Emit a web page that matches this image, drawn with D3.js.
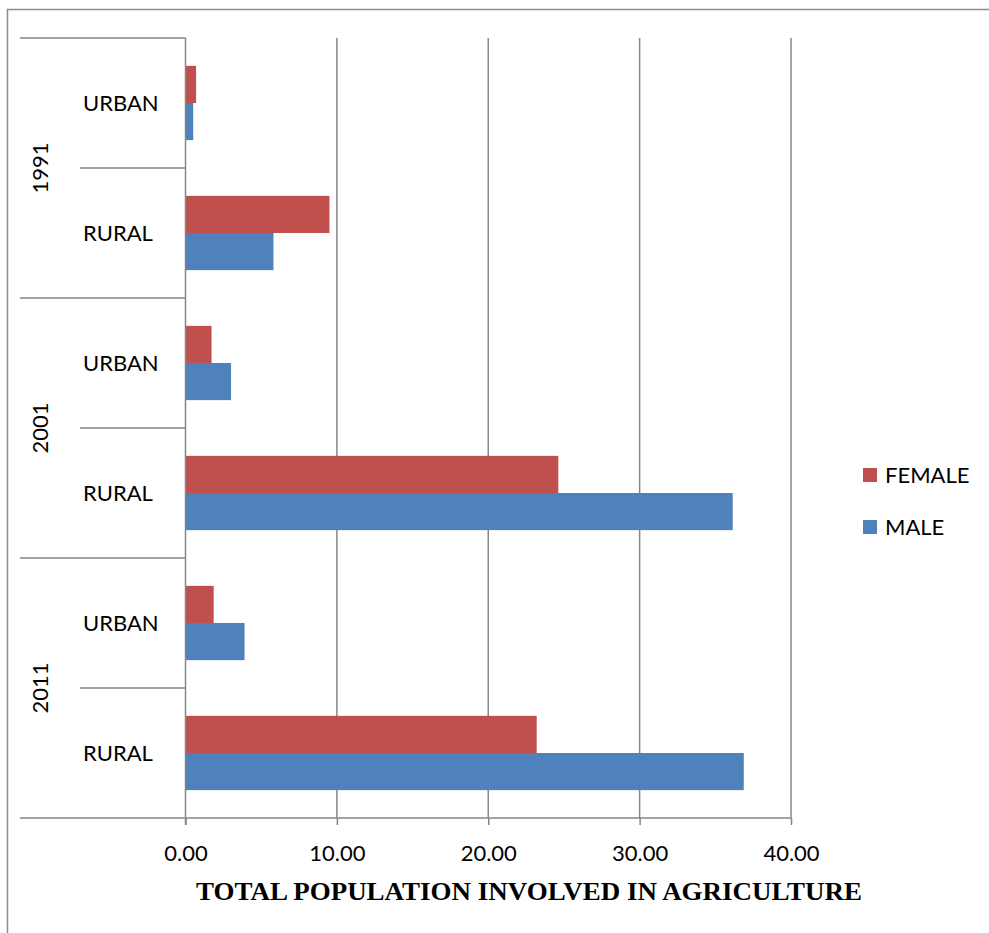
<!DOCTYPE html>
<html><head><meta charset="utf-8">
<script src="https://cdn.jsdelivr.net/npm/d3@7"></script>
<style>body{margin:0;background:#fff}svg{display:block}</style>
</head><body>
<svg id="c" width="989" height="933"></svg>
<script>
const years = ["1991", "2001", "2011"];
const areas = ["URBAN", "RURAL"];
const seriesNames = ["FEMALE", "MALE"];
const seriesColors = ["#C0504D", "#4F81BD"];
// order: 1991 URBAN, 1991 RURAL, 2001 URBAN, 2001 RURAL, 2011 URBAN, 2011 RURAL
const femaleValues = [0.70, 9.51, 1.72, 24.63, 1.86, 23.20];
const maleValues = [0.51, 5.81, 3.01, 36.15, 3.90, 36.88];
const xTicks = [0, 10, 20, 30, 40];
const xTitle = "TOTAL POPULATION INVOLVED IN AGRICULTURE";

const rows = [];
years.forEach(y => areas.forEach(a => rows.push({year: y, area: a, key: y + "|" + a})));
rows.forEach((r, i) => { r.FEMALE = femaleValues[i]; r.MALE = maleValues[i]; });

const svg = d3.select("#c");
const L = 185.5, R = 791, T = 38, B = 818;
const x = d3.scaleLinear().domain([0, 40]).range([L, R]);
const y = d3.scaleBand().domain(rows.map(r => r.key)).range([T, B]).paddingInner(0.4286).paddingOuter(0.2143);
const inner = d3.scaleBand().domain(seriesNames).range([0, y.bandwidth()]);
const step = y.step();
const font = "Lato, 'Open Sans', sans-serif";
const grey = "#868686";

// chart frame
svg.append("rect").attr("x", 7.5).attr("y", 9.5).attr("width", 1000).attr("height", 1000)
  .attr("fill", "none").attr("stroke", "#8c8c8c").attr("stroke-width", 1.5);

// gridlines
svg.append("g").selectAll("line").data(xTicks.slice(1)).join("line")
  .attr("x1", d => x(d)).attr("x2", d => x(d)).attr("y1", T).attr("y2", B)
  .attr("stroke", grey).attr("stroke-width", 1.5);

// bars
const g = svg.append("g");
rows.forEach(r => {
  seriesNames.forEach((s, si) => {
    g.append("rect")
      .attr("x", x(0)).attr("y", y(r.key) + inner(s))
      .attr("width", x(r[s]) - x(0)).attr("height", inner.bandwidth())
      .attr("fill", seriesColors[si]);
  });
});

// x axis
const xAxis = d3.axisBottom(x).tickValues(xTicks).tickFormat(d3.format(".2f")).tickSize(7).tickPadding(20);
const xa = svg.append("g").attr("transform", `translate(0,${B})`).call(xAxis);
xa.select(".domain").remove();
xa.selectAll(".tick line").attr("stroke", grey).attr("stroke-width", 1.5);
xa.selectAll(".tick text").attr("font-family", font).attr("font-size", 22).attr("fill", "#000");
svg.append("line").attr("x1", 20).attr("x2", R).attr("y1", B).attr("y2", B).attr("stroke", grey).attr("stroke-width", 1.5);

// y axis line
svg.append("line").attr("x1", L).attr("x2", L).attr("y1", T).attr("y2", B + 7).attr("stroke", grey).attr("stroke-width", 1.5);

// category boundary lines
rows.forEach((r, i) => {
  const yy = T + i * step;
  const x1 = r.area === "URBAN" ? 20 : 80;
  svg.append("line").attr("x1", x1).attr("x2", L).attr("y1", yy).attr("y2", yy).attr("stroke", grey).attr("stroke-width", 1.5);
});

// area labels
svg.append("g").selectAll("text").data(rows).join("text")
  .attr("x", 83).attr("y", r => y(r.key) + y.bandwidth() / 2 + 8)
  .attr("font-family", font).attr("font-size", 22).attr("fill", "#000")
  .text(r => r.area);

// year labels
years.forEach((yr, i) => {
  const cy = T + (2 * i + 1) * step;
  svg.append("text").attr("transform", `translate(48,${cy}) rotate(-90)`)
    .attr("text-anchor", "middle").attr("font-family", font).attr("font-size", 22).attr("fill", "#000")
    .text(yr);
});

// axis title
svg.append("text").attr("x", 529).attr("y", 900).attr("text-anchor", "middle")
  .attr("font-family", "'Liberation Serif', 'Times New Roman', serif").attr("font-weight", "bold")
  .attr("font-size", 26).attr("textLength", 666).attr("lengthAdjust", "spacingAndGlyphs")
  .text(xTitle);

// legend
const leg = svg.append("g");
seriesNames.forEach((s, i) => {
  const ly = 468 + i * 52;
  leg.append("rect").attr("x", 863).attr("y", ly).attr("width", 14).attr("height", 14).attr("fill", seriesColors[i]);
  leg.append("text").attr("x", 885).attr("y", ly + 14.5).attr("font-family", font).attr("font-size", 22).attr("fill", "#000").text(s);
});
</script>
</body></html>
